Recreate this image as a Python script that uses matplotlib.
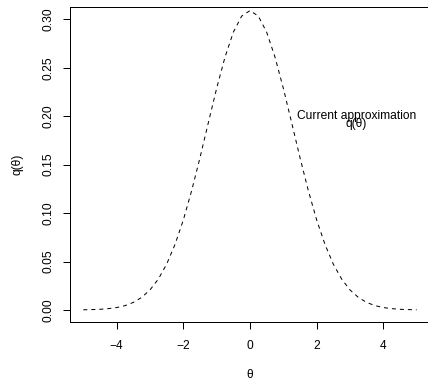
import matplotlib

matplotlib.use("Agg")
import matplotlib.pyplot as plt  # noqa: E402
from matplotlib.ticker import FormatStrFormatter  # noqa: E402

# values
theta = [-5.0, -4.75, -4.5, -4.25, -4.0, -3.75, -3.5, -3.25, -3.0, -2.75, -2.5,
         -2.25, -2.0, -1.75, -1.5, -1.25, -1.0, -0.75, -0.5, -0.25, 0.0,
         0.25, 0.5, 0.75, 1.0, 1.25, 1.5, 1.75, 2.0, 2.25, 2.5,
         2.75, 3.0, 3.25, 3.5, 3.75, 4.0, 4.25, 4.5, 4.75, 5.0]
q_half = [0.0002, 0.0004, 0.0007, 0.0014, 0.0025, 0.0045, 0.0078, 0.0130, 0.0207, 0.0319, 0.0473,
          0.0676, 0.0929, 0.1232, 0.1572, 0.1933, 0.2288, 0.2610, 0.2867, 0.3033, 0.3090]
q_theta = q_half + q_half[-2::-1]

x_ticks = [-4, -2, 0, 2, 4]
y_ticks = [0.00, 0.05, 0.10, 0.15, 0.20, 0.25, 0.30]

plt.rcParams["font.family"] = ["Liberation Sans", "DejaVu Sans"]
FS = 8.64
W, H = 428, 380

fig = plt.figure(figsize=(W / 100, H / 100), dpi=100)
ax = fig.add_axes([70 / W, (H - 322) / H, (430 - 70) / W, (322 - 7) / H])

ax.plot(theta, q_theta, color="black", linewidth=0.72, linestyle=(0, (4, 4)))

ax.set_xlim(-5.4, 5.4)
ax.set_ylim(-0.0124, 0.3127)
ax.set_xticks(x_ticks)
ax.set_yticks(y_ticks)
ax.yaxis.set_major_formatter(FormatStrFormatter("%.2f"))
ax.tick_params(direction="out", length=5, width=0.72, labelsize=FS, color="black")
ax.tick_params(axis="x", pad=8)
ax.tick_params(axis="y", labelrotation=90, pad=6)
for lab in ax.get_yticklabels():
    lab.set_va("center")
for sp in ax.spines.values():
    sp.set_linewidth(0.72)

ax.set_xlabel("θ", fontsize=FS, labelpad=12)
ax.set_ylabel("q(θ)", fontsize=FS, labelpad=14)

ax.text(3.2, 0.197, "Current approximation", fontsize=FS, ha="center", va="baseline")
ax.text(3.2, 0.189, "q(θ)", fontsize=FS, ha="center", va="baseline")

fig.savefig("out.png", dpi=100)
